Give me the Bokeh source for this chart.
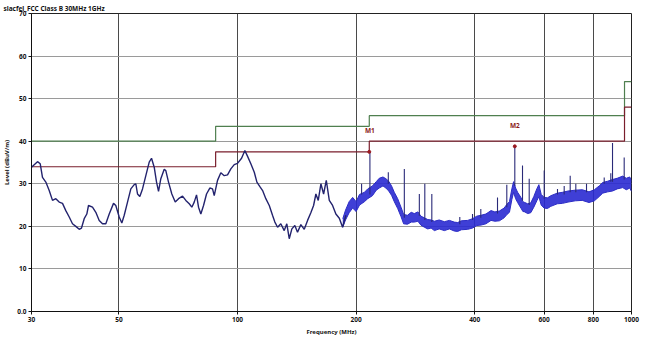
from bokeh.plotting import figure
from bokeh.models import FixedTicker, Label
from bokeh.embed import file_html
from bokeh.resources import INLINE

title_text = "siacfel_FCC Class B 30MHz 1GHz"
x_label = "Frequency (MHz)"
y_label = "Level (dBuV/m)"
x_ticks = [30, 50, 100, 200, 400, 600, 800, 1000]
x_tick_labels = ["30", "50", "100", "200", "400", "600", "800", "1000"]
y_ticks = [0, 10, 20, 30, 40, 50, 60, 70]
y_tick_labels = ["0.0", "10", "20", "30", "40", "50", "60", "70"]

# FCC Class B limit (green) and margin line (dark red)
limit_freq = [30, 88, 216, 960, 1000]
limit_qp = [40.0, 43.5, 46.0, 54.0]
limit_margin = [34.0, 37.5, 40.0, 48.0]

# low-frequency scan trace
scan_freq = [30.0, 31.07, 31.57, 31.99, 32.62, 33.27, 33.92, 34.58, 35.27, 35.96,
             36.66, 37.40, 38.12, 38.87, 39.65, 40.18, 40.82, 41.45, 41.86, 42.85,
             43.69, 44.56, 45.43, 46.32, 47.25, 48.45, 49.10, 50.09, 50.86, 51.58,
             52.58, 53.61, 54.68, 55.20, 55.75, 56.50, 57.40, 58.52, 59.69, 60.50,
             61.46, 62.30, 63.03, 63.88, 65.16, 65.77, 66.82, 68.12, 69.49, 70.85,
             72.52, 73.93, 75.42, 76.57, 77.65, 78.70, 79.63, 80.71, 81.99, 83.44,
             85.06, 86.42, 87.28, 88.98, 90.71, 92.54, 94.34, 96.17, 98.11, 100.0,
             102.4, 104.4, 106.0, 108.1, 110.3, 112.0, 114.2, 115.8, 118.0, 120.4,
             122.7, 124.4, 126.4, 128.8, 131.4, 133.4, 135.3, 137.4, 139.8, 142.0,
             144.8, 147.7, 150.6, 153.5, 156.0, 158.1, 160.3, 162.8, 165.4, 168.0,
             171.0, 174.3, 177.7, 181.3, 184.8, 188.4]
scan_level = [33.9, 35.2, 34.7, 31.5, 30.4, 28.4, 26.1, 26.5, 25.7, 25.4,
              23.7, 22.2, 20.6, 20.0, 19.3, 19.6, 21.8, 22.9, 24.9, 24.5,
              23.3, 21.4, 20.6, 20.6, 22.9, 25.4, 24.9, 22.2, 20.8, 22.6,
              25.7, 28.8, 29.8, 30.0, 27.6, 27.0, 28.8, 31.9, 35.1, 36.0,
              33.9, 30.4, 28.2, 31.2, 33.4, 33.1, 30.4, 27.6, 25.7, 26.5,
              27.1, 26.1, 25.3, 24.5, 25.7, 27.4, 24.5, 22.9, 24.9, 27.6,
              29.0, 28.8, 27.2, 30.8, 32.6, 31.9, 32.1, 33.5, 34.5, 34.8,
              36.0, 37.8, 36.5, 34.7, 32.7, 30.4, 29.2, 28.4, 26.5, 24.9,
              22.6, 21.0, 19.8, 20.6, 19.0, 20.6, 17.1, 19.4, 20.2, 18.6,
              20.4, 19.3, 21.4, 23.2, 24.9, 27.6, 26.1, 30.0, 27.6, 30.8,
              26.1, 24.9, 22.9, 21.9, 19.8, 22.6]

# high-frequency dense noise band (lower / upper edge)
band_freq = [185, 188, 192, 196, 200, 204, 210, 214, 220, 225, 229, 234, 238, 242, 246,
             250, 255, 260, 264, 270, 276, 281, 287, 292, 298, 304, 310, 316, 325, 335,
             345, 355, 362, 370, 384, 395, 405, 415, 427, 440, 450, 462, 475, 483, 490,
             497, 502, 508, 514, 524, 530, 536, 545, 555, 565, 575, 582, 590, 600, 612,
             624, 648, 668, 690, 720, 750, 780, 805, 828, 845, 870, 895, 920, 950, 970,
             990, 1000]
band_lo = [19.8, 21.5, 23.2, 24.3, 23.5, 25.0, 25.8, 26.5, 27.2, 28.5, 29.0, 29.5, 29.0, 28.3, 27.3,
           25.8, 24.2, 22.3, 20.6, 20.5, 21.0, 21.0, 21.2, 20.3, 19.8, 19.4, 19.6, 19.0, 19.4, 19.0,
           19.4, 18.9, 18.8, 19.2, 19.3, 19.6, 20.2, 20.3, 20.6, 21.4, 21.2, 21.3, 22.0, 22.8, 23.3,
           26.3, 28.0, 26.5, 25.6, 24.3, 23.5, 23.4, 23.0, 23.2, 24.5, 26.0, 27.0, 25.0, 24.3, 24.2,
           24.7, 25.3, 25.4, 25.7, 26.0, 26.1, 25.6, 26.0, 27.0, 27.8, 28.1, 28.3, 28.8, 29.1, 28.6,
           29.0, 28.2]
band_hi = [21.8, 23.8, 25.8, 26.8, 25.8, 27.5, 28.0, 28.8, 29.5, 30.5, 31.3, 31.6, 31.2, 30.6, 29.5,
           28.0, 26.5, 24.5, 22.8, 22.6, 23.3, 23.0, 23.4, 22.4, 22.0, 21.6, 21.5, 21.2, 21.5, 21.1,
           21.4, 21.0, 20.9, 21.3, 21.4, 21.8, 22.4, 22.6, 22.9, 23.7, 23.4, 23.6, 24.3, 25.2, 25.8,
           28.8, 30.5, 29.0, 28.0, 26.8, 25.8, 25.6, 25.3, 25.5, 27.0, 28.8, 29.8, 27.5, 26.8, 26.7,
           27.2, 27.8, 28.0, 28.3, 28.5, 28.6, 28.1, 28.6, 29.5, 30.3, 30.6, 31.0, 31.3, 31.8, 31.3,
           31.6, 30.6]

# narrow-band spikes
spike_freq = [206.5, 216.8, 241.4, 265.1, 289.4, 298.8, 311.3, 366.6, 394.9, 414.5,
              457.0, 482.5, 505.6, 528.9, 550.0, 600.4, 648.9, 674.8, 698.9, 722.2,
              768.8, 852.6, 886.1, 895.0, 958.2]
spike_base = [27.5, 27.5, 30.0, 22.0, 22.5, 21.5, 21.0, 20.5, 21.5, 22.0,
              23.0, 24.5, 29.5, 26.0, 25.0, 26.5, 27.5, 27.5, 28.0, 28.0,
              28.0, 30.0, 30.5, 30.5, 31.0]
spike_top = [30.0, 37.5, 32.7, 33.5, 27.6, 30.0, 27.6, 22.2, 22.9, 24.1,
             26.8, 29.8, 38.8, 34.3, 31.2, 33.1, 28.8, 29.5, 31.9, 30.0,
             30.0, 31.5, 32.5, 39.6, 36.2]

marker_names = ["M1", "M2"]
marker_freq = [216.0, 505.6]
marker_level = [37.5, 38.8]
marker_label_level = [42.6, 43.7]
marker_label_freq = [216.8, 505.6]

FONT = "Noto Sans"

p = figure(frame_width=600, frame_height=298, x_axis_type="log", x_range=(30, 1000), y_range=(0, 70),
           output_backend="svg", toolbar_location=None,
           min_border_left=28, min_border_right=26, min_border_top=13, min_border_bottom=27)
p.background_fill_color = "white"
p.border_fill_color = "white"
p.outline_line_color = "#222222"
p.outline_line_width = 1

p.title.text = title_text
p.title.text_font = FONT
p.title.text_font_size = "6.5px"
p.title.text_font_style = "bold"
p.title.text_color = "#111111"
p.title.align = "left"
p.title.offset = -28
p.title.standoff = 1

# axes
p.xaxis.ticker = FixedTicker(ticks=x_ticks, minor_ticks=[])
p.xaxis.major_label_overrides = {t: l for t, l in zip(x_ticks, x_tick_labels)}
p.yaxis.ticker = FixedTicker(ticks=y_ticks, minor_ticks=[])
p.yaxis.major_label_overrides = {t: l for t, l in zip(y_ticks, y_tick_labels)}
for ax in (p.xaxis, p.yaxis):
    ax.major_label_text_font = FONT
    ax.major_label_text_font_size = "6.5px"
    ax.major_label_text_font_style = "bold"
    ax.major_label_text_color = "#111111"
    ax.axis_label_text_font = FONT
    ax.axis_label_text_font_size = "6px"
    ax.axis_label_text_font_style = "bold"
    ax.axis_label_text_color = "#111111"
    ax.axis_line_color = "#111111"
    ax.major_tick_line_color = "#111111"
    ax.major_tick_out = 3
    ax.major_tick_in = 0
    ax.minor_tick_out = 0
    ax.major_label_standoff = 2
    ax.axis_label_standoff = 3
p.xaxis.axis_label = x_label
p.yaxis.axis_label = y_label

p.xgrid.ticker = FixedTicker(ticks=x_ticks, minor_ticks=[])
p.ygrid.ticker = FixedTicker(ticks=y_ticks, minor_ticks=[])
p.xgrid.grid_line_color = "#4a4a4a"
p.xgrid.grid_line_width = 1
p.ygrid.grid_line_color = "#9a9a9a"
p.ygrid.grid_line_width = 1

# limit lines as steps
def steps(freqs, levels):
    xs, ys = [], []
    for i, lv in enumerate(levels):
        xs += [freqs[i], freqs[i + 1]]
        ys += [lv, lv]
    return xs, ys

gx, gy = steps(limit_freq, limit_qp)
rx, ry = steps(limit_freq, limit_margin)
p.line(gx, gy, line_color="#4f7f4f", line_width=1.2)
p.line(rx, ry, line_color="#7a1e2c", line_width=1.2)

# measured trace
p.varea(x=band_freq, y1=band_lo, y2=band_hi, fill_color="#2a2ad2", fill_alpha=0.9)
p.line(band_freq, band_lo, line_color="#2c2cc4", line_width=1)
p.line(band_freq, band_hi, line_color="#2c2cc4", line_width=1)
p.line(scan_freq, scan_level, line_color="#23236e", line_width=1.4)
p.segment(x0=spike_freq, y0=spike_base, x1=spike_freq, y1=spike_top,
          line_color="#2a2a78", line_width=1.1)

# markers
p.scatter(marker_freq, marker_level, size=3, color="#9a1a22")
for name, f, lv in zip(marker_names, marker_label_freq, marker_label_level):
    p.add_layout(Label(x=f, y=lv, text=name, text_font=FONT, text_font_size="6.5px",
                       text_font_style="bold", text_color="#8a1a1a",
                       text_align="center", text_baseline="middle"))

open("out.html", "w").write(file_html(p, INLINE))
